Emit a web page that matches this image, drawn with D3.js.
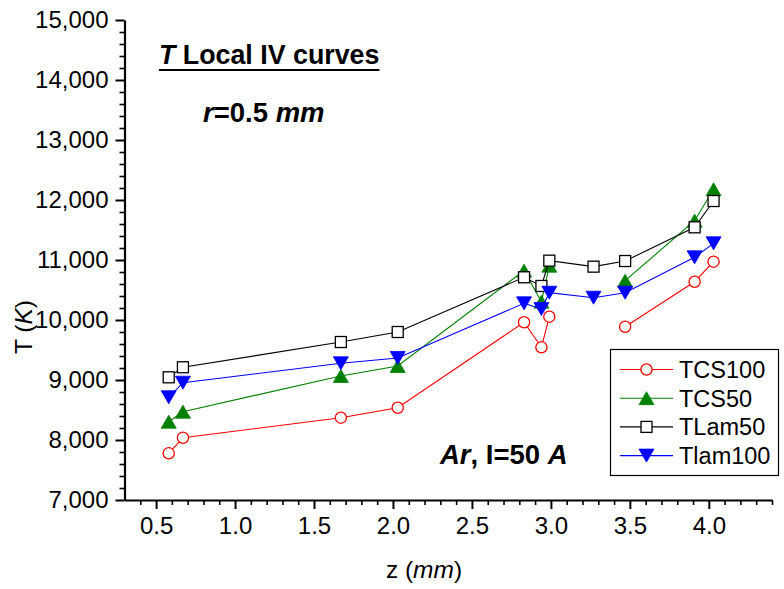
<!DOCTYPE html>
<html>
<head>
<meta charset="utf-8">
<script src="https://cdn.jsdelivr.net/npm/d3@7"></script>
<style>
  html, body { margin: 0; padding: 0; background: #fff; }
  svg { display: block; font-family: "Liberation Sans", Arial, sans-serif; }
</style>
</head>
<body>
<svg id="chart" width="784" height="589"></svg>
<script>
// ---- data ----
const zValues   = [0.58, 0.67, 1.67, 2.03, 2.83, 2.94, 2.99, 3.27, 3.47, 3.91, 4.03];
const tcs100    = [7778, 8038, 8372, 8538, 9962, 9545, 10055, null, 9888, 10638, 10972];
const tcs50     = [8305, 8472, 9067, 9233, 10822, 10305, 10905, null, 10655, 11655, 12178];
const tlam50    = [9045, 9212, 9633, 9800, 10712, 10567, 10989, 10889, 10983, 11545, 11983];
const tlam100   = [8712, 8955, 9278, 9367, 10278, 10183, 10455, 10372, 10455, 11045, 11278];
const seriesNames = ["TCS100", "TCS50", "TLam50", "Tlam100"];
const xTickValues = [0.5, 1.0, 1.5, 2.0, 2.5, 3.0, 3.5, 4.0];
const yTickValues = [7000, 8000, 9000, 10000, 11000, 12000, 13000, 14000, 15000];

const seriesValues = [tcs100, tcs50, tlam50, tlam100];
const styles = [
  { color: "#ff0000", shape: "circle" },
  { color: "#008000", shape: "up" },
  { color: "#000000", shape: "square" },
  { color: "#0000ff", shape: "down" }
];

const svg = d3.select("#chart");
svg.append("rect").attr("width", 784).attr("height", 589).attr("fill", "#fff");

const x = d3.scaleLinear().domain([0.3, 4.4]).range([124.5, 772]);
const y = d3.scaleLinear().domain([7000, 15000]).range([500, 20]);

// minor ticks
const xMinor = d3.range(4, 45).map(v => v / 10).filter(v => Math.abs(v * 2 - Math.round(v * 2)) > 1e-6);
const yMinor = d3.range(7000, 15001, 200).filter(v => v % 1000 !== 0);

const gxMinor = svg.append("g").attr("transform", "translate(0,500)")
  .call(d3.axisBottom(x).tickValues(xMinor).tickSize(5).tickSizeOuter(0).tickFormat(""));
const gyMinor = svg.append("g").attr("transform", "translate(124.5,0)")
  .call(d3.axisLeft(y).tickValues(yMinor).tickSize(5).tickSizeOuter(0).tickFormat(""));
[gxMinor, gyMinor].forEach(g => { g.select(".domain").remove(); g.selectAll("line").attr("stroke-width", 1.6); });

const gx = svg.append("g").attr("transform", "translate(0,500)")
  .call(d3.axisBottom(x).tickValues(xTickValues).tickSize(9).tickSizeOuter(0).tickPadding(8).tickFormat(d3.format(".1f")));
const gy = svg.append("g").attr("transform", "translate(124.5,0)")
  .call(d3.axisLeft(y).tickValues(yTickValues).tickSize(9).tickSizeOuter(0).tickPadding(7).tickFormat(d3.format(",")));
[gx, gy].forEach(g => {
  g.select(".domain").attr("stroke-width", 2.2);
  g.selectAll("line").attr("stroke-width", 2);
  g.selectAll("text").attr("font-size", 24).attr("fill", "#000")
    .attr("font-family", "'Liberation Sans', Arial, sans-serif");
});

// marker drawing
function marker(g, shape, color, cx, cy) {
  if (shape === "circle") {
    g.append("circle").attr("cx", cx).attr("cy", cy).attr("r", 5.6)
      .attr("fill", "#fff").attr("stroke", color).attr("stroke-width", 1.3);
  } else if (shape === "square") {
    g.append("rect").attr("x", cx - 5.5).attr("y", cy - 5.5).attr("width", 11).attr("height", 11)
      .attr("fill", "#fff").attr("stroke", color).attr("stroke-width", 1.3);
  } else if (shape === "up") {
    g.append("path").attr("d", `M${cx},${cy - 6.5}L${cx + 7.5},${cy + 6.5}L${cx - 7.5},${cy + 6.5}Z`)
      .attr("fill", color).attr("stroke", color).attr("stroke-width", 0.8);
  } else {
    g.append("path").attr("d", `M${cx - 7.5},${cy - 6.5}L${cx + 7.5},${cy - 6.5}L${cx},${cy + 6.5}Z`)
      .attr("fill", color).attr("stroke", color).attr("stroke-width", 0.8);
  }
}

const line = d3.line().defined(d => d[1] != null).x(d => x(d[0])).y(d => y(d[1]));

seriesValues.forEach((vals, i) => {
  const pts = zValues.map((z, j) => [z, vals[j]]);
  const g = svg.append("g");
  g.append("path").datum(pts).attr("d", line).attr("fill", "none")
    .attr("stroke", styles[i].color).attr("stroke-width", 1.1);
  pts.filter(p => p[1] != null).forEach(p => marker(g, styles[i].shape, styles[i].color, x(p[0]), y(p[1])));
});

// annotations
const title = svg.append("text").attr("x", 159).attr("y", 64)
  .attr("font-size", 26.8).attr("font-weight", "bold");
title.append("tspan").attr("font-style", "italic").text("T");
title.append("tspan").text(" Local IV curves");
const tw = title.node().getComputedTextLength();
svg.append("line").attr("x1", 159).attr("x2", 159 + tw).attr("y1", 70).attr("y2", 70)
  .attr("stroke", "#000").attr("stroke-width", 2.2);

const rtxt = svg.append("text").attr("x", 203).attr("y", 122)
  .attr("font-size", 27.5).attr("font-weight", "bold");
rtxt.append("tspan").attr("font-style", "italic").text("r");
rtxt.append("tspan").text("=0.5 ");
rtxt.append("tspan").attr("font-style", "italic").text("mm");

const ar = svg.append("text").attr("x", 440).attr("y", 464)
  .attr("font-size", 27.5).attr("font-weight", "bold");
ar.append("tspan").attr("font-style", "italic").text("Ar");
ar.append("tspan").text(", I=50 ");
ar.append("tspan").attr("font-style", "italic").text("A");

// axis titles
const xl = svg.append("text").attr("x", 424).attr("y", 578).attr("text-anchor", "middle").attr("font-size", 24.5);
xl.append("tspan").text("z (");
xl.append("tspan").attr("font-style", "italic").text("mm");
xl.append("tspan").text(")");

const yl = svg.append("text").attr("transform", "translate(32,327) rotate(-90)")
  .attr("text-anchor", "middle").attr("font-size", 24.5);
yl.append("tspan").text("T (");
yl.append("tspan").attr("font-style", "italic").text("K");
yl.append("tspan").text(")");

// legend
const lg = svg.append("g");
lg.append("rect").attr("x", 610.5).attr("y", 349.5).attr("width", 168).attr("height", 126)
  .attr("fill", "#fff").attr("stroke", "#000").attr("stroke-width", 1.2);
seriesNames.forEach((name, i) => {
  const cy = 369.5 + i * 28.7;
  lg.append("line").attr("x1", 620).attr("x2", 673).attr("y1", cy).attr("y2", cy)
    .attr("stroke", styles[i].color).attr("stroke-width", 1.1);
  marker(lg, styles[i].shape, styles[i].color, 646.5, cy);
  lg.append("text").attr("x", 679).attr("y", cy + 8.3).attr("font-size", 23.5).text(name);
});
</script>
</body>
</html>
